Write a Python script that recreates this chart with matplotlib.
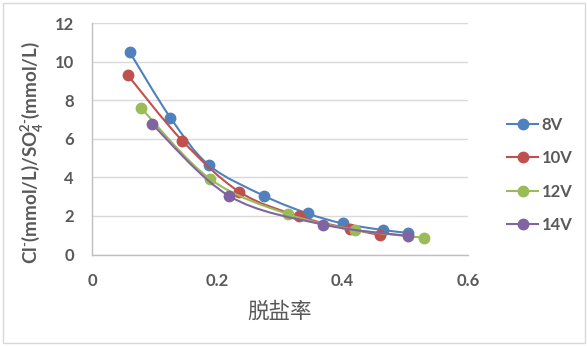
import numpy as np
import matplotlib
matplotlib.use("Agg")
import matplotlib.pyplot as plt
from matplotlib.path import Path
from matplotlib.patches import PathPatch, Rectangle
from matplotlib.lines import Line2D

# Desalination rate vs. Cl-/SO4 2- ratio at four voltages
series_names = ["8V", "10V", "12V", "14V"]
x_8v = [0.060, 0.125, 0.187, 0.274, 0.344, 0.400, 0.464, 0.505]
y_8v = [10.5, 7.1, 4.62, 3.05, 2.13, 1.61, 1.27, 1.12]
x_10v = [0.057, 0.144, 0.235, 0.331, 0.412, 0.460]
y_10v = [9.3, 5.9, 3.25, 1.97, 1.33, 1.01]
x_12v = [0.078, 0.189, 0.312, 0.420, 0.529]
y_12v = [7.6, 3.9, 2.1, 1.28, 0.87]
x_14v = [0.096, 0.219, 0.369, 0.505]
y_14v = [6.75, 3.03, 1.55, 0.96]
colors = ["#4F81BD", "#C0504D", "#9BBB59", "#8064A2"]

x_ticks = [0, 0.2, 0.4, 0.6]
x_tick_labels = ["0", "0.2", "0.4", "0.6"]
y_ticks = [0, 2, 4, 6, 8, 10, 12]

plt.rcParams["font.family"] = ["Lato", "DejaVu Sans"]
plt.rcParams["mathtext.fontset"] = "custom"
plt.rcParams["mathtext.bf"] = "Lato:bold"
plt.rcParams["mathtext.rm"] = "Lato:bold"

W, H = 587, 346
fig = plt.figure(figsize=(W / 100, H / 100), dpi=100)
fig.patch.set_facecolor("white")

# chart-area frame
fig.add_artist(Rectangle((3 / W, 3 / H), 582 / W, 340 / H, transform=fig.transFigure,
                         fill=False, edgecolor="#D9D9D9", linewidth=1.0))

ax = fig.add_axes([92 / W, (H - 254.5) / H, (468 - 92) / W, (254.5 - 23) / H])
ax.set_xlim(0, 0.6)
ax.set_ylim(0, 12)
ax.set_xticks(x_ticks)
ax.set_xticklabels(x_tick_labels)
ax.set_yticks(y_ticks)
ax.grid(axis="y", color="#D9D9D9", linewidth=1.0)
ax.set_axisbelow(True)
for s in ["top", "right"]:
    ax.spines[s].set_visible(False)
for s in ["left", "bottom"]:
    ax.spines[s].set_color("#BFBFBF")
    ax.spines[s].set_linewidth(1.0)
ax.tick_params(length=0, labelsize=12, labelcolor="#595959")
for lab in ax.get_xticklabels() + ax.get_yticklabels():
    lab.set_fontweight("bold")
ax.tick_params(axis="y", pad=13)
ax.tick_params(axis="x", pad=13)


def smooth_path(xs, ys):
    """Bezier path through the points, tangents from neighbouring points."""
    pts = np.column_stack([xs, ys])
    n = len(pts)
    verts = [pts[0]]
    codes = [Path.MOVETO]
    for i in range(n - 1):
        p0 = pts[i - 1] if i > 0 else pts[i]
        p1 = pts[i]
        p2 = pts[i + 1]
        p3 = pts[i + 2] if i + 2 < n else pts[i + 1]
        c1 = p1 + (p2 - p0) / 6.0
        c2 = p2 - (p3 - p1) / 6.0
        verts += [c1, c2, p2]
        codes += [Path.CURVE4] * 3
    return Path(verts, codes)


all_x = [x_8v, x_10v, x_12v, x_14v]
all_y = [y_8v, y_10v, y_12v, y_14v]
handles = []
for i, (xs, ys, c, name) in enumerate(zip(all_x, all_y, colors, series_names)):
    patch = PathPatch(smooth_path(xs, ys), facecolor="none", edgecolor=c,
                      linewidth=1.5, zorder=3 + i)
    ax.add_patch(patch)
    ax.plot(xs, ys, linestyle="none", marker="o", markersize=7.5, color=c,
            zorder=3.5 + i, clip_on=False)
    handles.append(Line2D([], [], color=c, linewidth=1.5, marker="o",
                          markersize=7.5, label=name))

ax.set_ylabel(r"Cl$^{\text{-}}$(mmol/L)/SO$_{4}^{\text{2-}}$(mmol/L)", fontsize=13.5,
              fontweight="bold", color="#595959")
ax.yaxis.set_label_coords(-0.122, 0.44)
ax.set_xlabel("脱盐率", fontsize=15.5, color="#595959",
              family=["Noto Sans CJK SC", "DejaVu Sans"], labelpad=9)

leg = fig.legend(handles=handles, loc="center left",
                 bbox_to_anchor=(500 / W, (H - 175) / H), frameon=False,
                 fontsize=12, labelspacing=1.05, handlelength=1.9,
                 handletextpad=0.2, borderaxespad=0)
for t in leg.get_texts():
    t.set_fontweight("bold")
    t.set_color("#595959")

fig.savefig("out.png", dpi=100, facecolor="white")
